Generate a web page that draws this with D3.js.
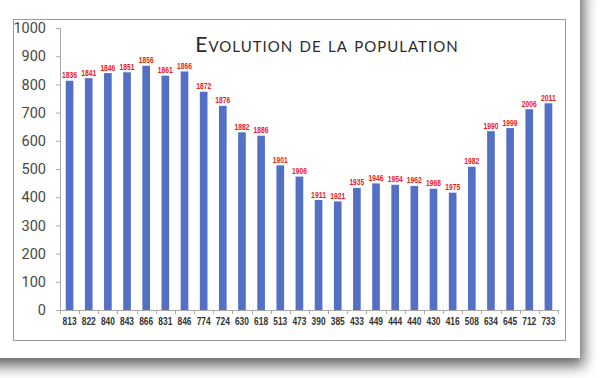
<!DOCTYPE html>
<html>
<head>
<meta charset="utf-8">
<script src="https://cdn.jsdelivr.net/npm/d3@7"></script>
<style>
  html, body { margin: 0; padding: 0; background: #fff; }
  svg { display: block; }
</style>
</head>
<body>
<div id="chart"></div>
<script>
// population per census year
var years = ["1836","1841","1846","1851","1856","1861","1866","1872","1876","1882","1886","1901","1906",
             "1911","1921","1935","1946","1954","1962","1968","1975","1982","1990","1999","2006","2011"];
var population = [813,822,840,843,866,831,846,774,724,630,618,513,473,
                  390,385,433,449,444,440,430,416,508,634,645,712,733];
var yTicks = [0,100,200,300,400,500,600,700,800,900,1000];
var title = "Evolution de la population";

var width = 600, height = 378;
var margin = {top: 28, right: 42, bottom: 68, left: 60};
var labelFont = "Liberation Sans, Arial, sans-serif";

var svg = d3.select("#chart").append("svg")
    .attr("width", width)
    .attr("height", height);

// drop shadow for the paper card
var defs = svg.append("defs");
var f = defs.append("filter").attr("id", "shadow")
    .attr("x", "-10%").attr("y", "-10%").attr("width", "130%").attr("height", "130%");
f.append("feDropShadow")
    .attr("dx", 4).attr("dy", 8)
    .attr("stdDeviation", 7)
    .attr("flood-color", "#000")
    .attr("flood-opacity", 0.6);

svg.append("rect")
    .attr("x", -20).attr("y", -20)
    .attr("width", 600).attr("height", 378)
    .attr("fill", "#fff")
    .attr("filter", "url(#shadow)");

// inner frame
svg.append("rect")
    .attr("x", 13.5).attr("y", 19.5)
    .attr("width", 552).attr("height", 321)
    .attr("fill", "#fff")
    .attr("stroke", "#9a9a9a")
    .attr("stroke-width", 1);

var x = d3.scaleBand()
    .domain(years)
    .range([margin.left, 558])
    .paddingInner(0.6)
    .paddingOuter(0.3);

var y = d3.scaleLinear()
    .domain([0, 1000])
    .range([310, 28]);

// bars
svg.append("g")
    .selectAll("rect")
    .data(years)
    .enter()
    .append("rect")
    .attr("x", function (d) { return x(d); })
    .attr("y", function (d, i) { return y(population[i]); })
    .attr("width", x.bandwidth())
    .attr("height", function (d, i) { return y(0) - y(population[i]); })
    .attr("fill", "#5470c4");

// year labels above bars
svg.append("g")
    .selectAll("text")
    .data(years)
    .enter()
    .append("text")
    .attr("x", function (d) { return x(d) + x.bandwidth() / 2; })
    .attr("y", function (d, i) { return y(population[i]) - 2.5; })
    .attr("text-anchor", "middle")
    .attr("font-family", labelFont)
    .attr("font-size", 8.5)
    .attr("font-weight", "bold")
    .attr("fill", "#f02020")
    .attr("textLength", 15)
    .attr("lengthAdjust", "spacingAndGlyphs")
    .text(function (d) { return d; });

// y axis
var yAxis = svg.append("g")
    .attr("transform", "translate(" + margin.left + ",0)")
    .call(d3.axisLeft(y).tickValues(yTicks).tickFormat(d3.format("d")).tickSize(4).tickPadding(10));
yAxis.select(".domain").attr("stroke", "#aaa");
yAxis.selectAll(".tick line").attr("stroke", "#aaa");
yAxis.selectAll("text")
    .attr("font-family", "Roboto, sans-serif")
    .attr("font-size", 14.5)
    .attr("fill", "#484848");

// x axis, labelled with the population values
var xAxis = svg.append("g")
    .attr("transform", "translate(0," + y(0) + ")")
    .call(d3.axisBottom(x).tickSize(0).tickPadding(8)
        .tickFormat(function (d, i) { return population[i]; }));
xAxis.select(".domain").attr("stroke", "#aaa");
xAxis.selectAll("text")
    .attr("font-family", labelFont)
    .attr("font-size", 10.5)
    .attr("font-weight", "bold")
    .attr("fill", "#333")
    .attr("textLength", 14)
    .attr("lengthAdjust", "spacingAndGlyphs");

// tick marks between categories
var x0 = x.range()[0], x1 = x.range()[1];
svg.append("g")
    .selectAll("line")
    .data(d3.range(years.length + 1))
    .enter()
    .append("line")
    .attr("x1", function (i) { return Math.round(x0 + i * (x1 - x0) / years.length) + 0.5; })
    .attr("x2", function (i) { return Math.round(x0 + i * (x1 - x0) / years.length) + 0.5; })
    .attr("y1", y(0))
    .attr("y2", y(0) + 4)
    .attr("stroke", "#aaa");

// title
svg.append("text")
    .attr("x", 327)
    .attr("y", 52)
    .attr("text-anchor", "middle")
    .attr("font-family", "Lato, Open Sans, sans-serif")
    .attr("font-size", 21)
    .attr("font-variant", "small-caps")
    .attr("letter-spacing", 1)
    .attr("fill", "#2a2a2a")
    .text(title);
</script>
</body>
</html>
